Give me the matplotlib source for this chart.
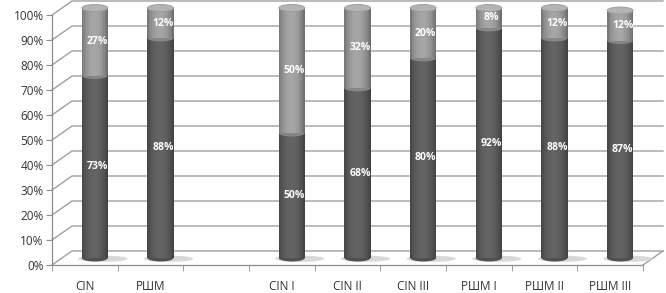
import numpy as np
import matplotlib
matplotlib.use('Agg')
import matplotlib.pyplot as plt
from matplotlib.patches import Ellipse
from matplotlib.ticker import FuncFormatter

plt.rcParams['font.family'] = ['Open Sans', 'DejaVu Sans']

# ------------------------------------------------------------------
# data (percent)
# ------------------------------------------------------------------
categories = ["CIN", "РШМ", "", "CIN I", "CIN II", "CIN III", "РШМ I", "РШМ II", "РШМ III"]
dark_vals = [73, 88, None, 50, 68, 80, 92, 88, 87]
light_vals = [27, 12, None, 50, 32, 20, 8, 12, 12]
yticks = list(range(0, 101, 10))

W, H, DPI = 666, 293, 100
fig = plt.figure(figsize=(W / DPI, H / DPI), dpi=DPI)
# front plot box in pixels: x 52..643, y(0%)=265, y(100%)=15
ax = fig.add_axes([52 / W, 28 / H, (643 - 52) / W, 250 / H])
ax.set_xlim(-0.5, 8.5)
ax.set_ylim(0, 100)

px_x = (643 - 52) / 9.0     # pixels per category
px_y = 2.5                  # pixels per percent
dx = 20 / px_x              # depth offset (back wall)
dy = 14 / px_y

axis_col = "#8c8c8c"
grid_col = "#a0a0a0"

# back wall gridlines with the 3D diagonal
for v in yticks:
    ax.plot([-0.5, -0.5 + dx, 8.5 + dx], [v, v + dy, v + dy],
            color=grid_col, lw=1.0, clip_on=False, zorder=1)
# floor right edge
ax.plot([8.5, 8.5 + dx], [0, dy], color=grid_col, lw=1.0, clip_on=False, zorder=1)

for s in ["top", "right"]:
    ax.spines[s].set_visible(False)
for s in ["left", "bottom"]:
    ax.spines[s].set_color(axis_col)
    ax.spines[s].set_linewidth(0.9)

ax.set_yticks(yticks)
ax.yaxis.set_major_formatter(FuncFormatter(lambda v, p: f"{v:.0f}%"))
ax.set_xticks(range(len(categories)))
ax.set_xticklabels(categories)
ax.set_xticks(np.arange(-0.5, 9.0, 1.0), minor=True)
ax.tick_params(axis="y", length=4, color=axis_col, labelsize=8.5, labelcolor="#333333", pad=2)
ax.tick_params(axis="x", which="major", length=0, labelsize=8.5, labelcolor="#333333", pad=11)
ax.tick_params(axis="x", which="minor", length=4, color=axis_col)

# ------------------------------------------------------------------
# cylinders
# ------------------------------------------------------------------
bw = 26 / px_x
ery = 7 / px_y            # ellipse full height in data units
N = 18
t = (np.arange(N) + 0.5) / N
shade = 0.70 + 0.38 * np.sin(np.pi * t) ** 0.7 - 0.06 * t


def segment(xc, bottom, height, base, z):
    xs = xc - bw / 2 + (np.arange(N) + 0.5) * bw / N
    cols = [(min(base * s, 1),) * 3 for s in shade]
    # rounded bottom
    ax.add_patch(Ellipse((xc, bottom), bw, ery, color=(base * 0.85,) * 3,
                         zorder=z, clip_on=False, lw=0))
    ax.bar(xs, height, width=bw / N * 1.05, bottom=bottom, color=cols,
           zorder=z + 0.1, clip_on=False, lw=0)


for i, (d, l) in enumerate(zip(dark_vals, light_vals)):
    if d is None:
        continue
    xc = i + dx / 2
    y0 = dy / 2
    # floor shadow
    ax.add_patch(Ellipse((xc + 0.12, y0 - 0.3), bw * 1.9, ery * 0.9,
                         color="#cfcfcf", alpha=0.8, zorder=2, clip_on=False, lw=0))
    segment(xc, y0, d, 0.37, 3)
    segment(xc, y0 + d, l, 0.62, 4)
    ax.add_patch(Ellipse((xc, y0 + d + l), bw, ery, facecolor="#b4b4b4",
                         edgecolor="#9a9a9a", lw=0.6, zorder=5, clip_on=False))
    ax.text(xc + 0.04, y0 + d / 2, f"{d}%", color="white", fontsize=7.5,
            fontweight="bold", ha="center", va="center", zorder=6)
    ax.text(xc + 0.04, y0 + d + l / 2, f"{l}%", color="white", fontsize=7.5,
            fontweight="bold", ha="center", va="center", zorder=6)

fig.savefig("out.png", dpi=DPI)
